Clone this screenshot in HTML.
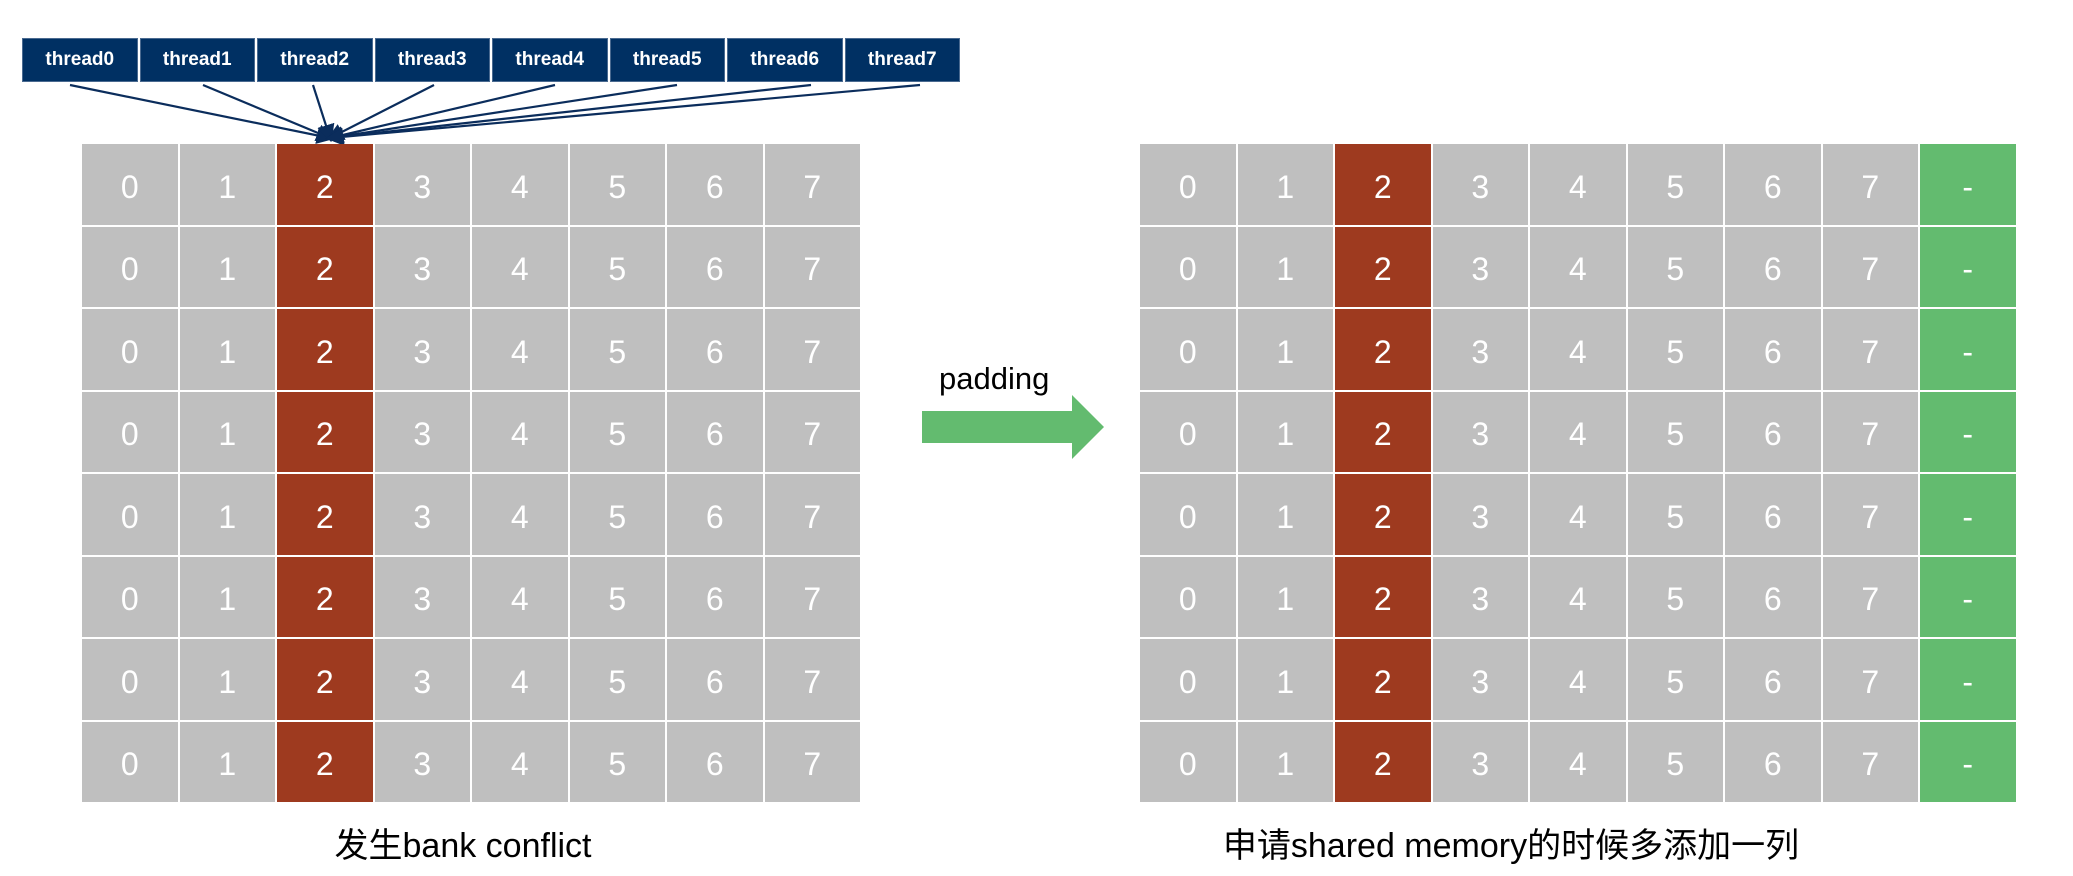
<!DOCTYPE html>
<html><head><meta charset="utf-8"><style>
html,body{margin:0;padding:0;background:#fff;}
body{width:2073px;height:876px;position:relative;overflow:hidden;font-family:"Liberation Sans","Noto Sans CJK SC",sans-serif;}
.c{position:absolute;display:flex;align-items:center;justify-content:center;color:#fff;font-size:32px;box-sizing:border-box;padding-top:6px;}
.t{position:absolute;background:#003063;color:#fff;font-weight:bold;font-size:19px;display:flex;align-items:center;justify-content:center;height:44px;top:38px;box-shadow:0 0 0 1px #4a6a90 inset;}
.cap{position:absolute;font-size:34px;color:#000;white-space:nowrap;transform:translateX(-50%);}
</style></head><body>
<svg width="2073" height="876" style="position:absolute;left:0;top:0">
<defs><marker id="ah" markerWidth="8" markerHeight="8" refX="6" refY="4" orient="auto"><path d="M0,0 L8,4 L0,8 z" fill="#0b2d5c"/></marker></defs>
<g id="lines" stroke="#0b2d5c" stroke-width="2.2"></g>
<polygon points="922,411 1072,411 1072,395 1104,427 1072,459 1072,443 922,443" fill="#63bb6f"/>
</svg>
<div id="root"></div>
<div style="position:absolute;left:939px;top:361px;font-size:31px;">padding</div>
<div class="cap" style="left:463px;top:818px;">发生bank conflict</div>
<div class="cap" style="left:1511px;top:818px;">申请shared memory的时候多添加一列</div>
<script>
const threads=["thread0","thread1","thread2","thread3","thread4","thread5","thread6","thread7"];
const colsL=["0","1","2","3","4","5","6","7"];
const colsR=["0","1","2","3","4","5","6","7","-"];
const rows=[0,1,2,3,4,5,6,7];
const root=document.getElementById('root');
const CW=97.5,RH=82.5,TOP=144;
function grid(x0,cols,side){
 rows.forEach(r=>{cols.forEach((v,i)=>{
  const d=document.createElement('div');d.className='c';
  
  
  d.style.left=(x0+i*CW)+'px';d.style.top=(TOP+r*RH)+'px';
  d.style.width=(CW-2)+'px';d.style.height=(RH-2)+'px';
  d.style.background=v==='2'?'#9e3a1f':(v==='-'?'#63bb6f':'#bfbfbf');
  d.textContent=v;root.appendChild(d);
 });});
}
grid(82,colsL,'left');grid(1140,colsR,'right');
const g=document.getElementById('lines');
threads.forEach((t,i)=>{
 const d=document.createElement('div');d.className='t';
 
 
 d.style.left=(22+i*117.5)+'px';d.style.width='115.5px';d.textContent=t;root.appendChild(d);
 const l=document.createElementNS('http://www.w3.org/2000/svg','line');
 
 
 const sx=[70,203,313,434,555,677,811,920][i];
 l.setAttribute('x1',sx);l.setAttribute('y1',85);l.setAttribute('x2',330);l.setAttribute('y2',138);
 l.setAttribute('marker-end','url(#ah)');g.appendChild(l);
});
</script>
</body></html>
